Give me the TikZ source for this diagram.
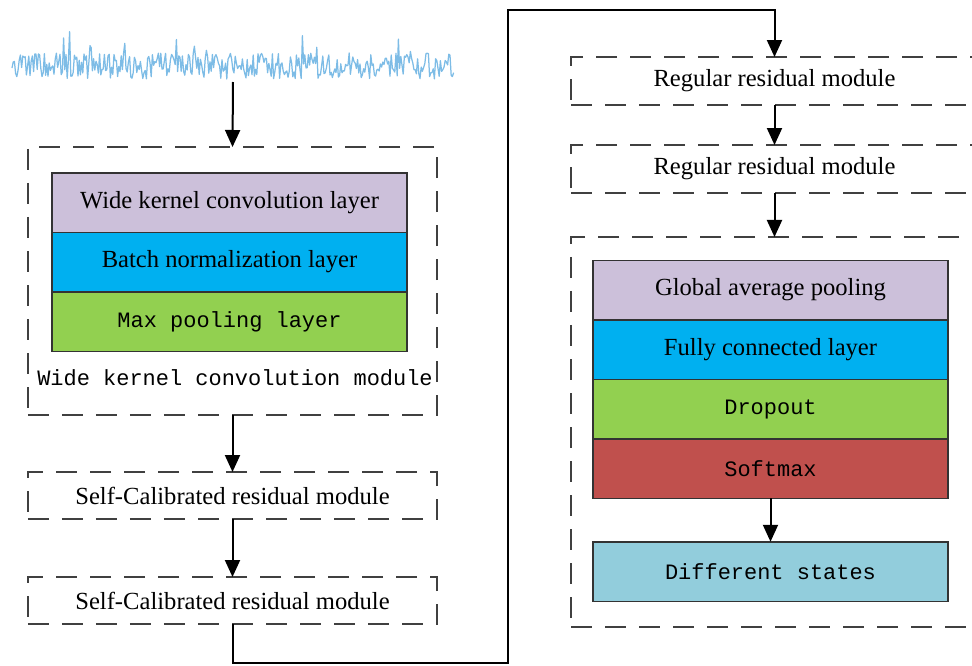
\documentclass[tikz,border=0pt]{standalone}
\usepackage{fontspec}
\setmainfont{Liberation Serif}
\setmonofont{Liberation Mono}
\usetikzlibrary{arrows.meta,positioning}
\definecolor{layerPurple}{HTML}{CCC0DA}
\definecolor{layerBlue}{HTML}{00B0F0}
\definecolor{layerGreen}{HTML}{92D050}
\definecolor{layerRed}{HTML}{C0504D}
\definecolor{layerCyan}{HTML}{92CDDC}
\definecolor{waveBlue}{HTML}{7DBCE6}

\begin{document}
\begin{tikzpicture}[x=0.2mm,y=-0.2mm,
    layer/.style={draw=black!80, line width=0.3mm, minimum width=71mm, minimum height=11.9mm,
      inner sep=0pt, outer sep=0pt, font=\fontsize{14}{16}\selectfont},
    monolayer/.style={layer, font=\ttfamily\fontsize{12.5}{14}\selectfont},
    module/.style={draw=black!75, line width=0.45mm, dash pattern=on 4.2mm off 2.6mm,
      inner sep=0pt, outer sep=0pt, font=\fontsize{14}{16}\selectfont},
    flow/.style={line width=0.4mm, -{Triangle[length=3.4mm,width=3mm]}},
    wire/.style={line width=0.4mm}]
  \useasboundingbox (0,0) rectangle (972,666);
  \clip (0,0) rectangle (972,666);

  % input signal
  \pgfmathsetseed{11}
  \draw[waveBlue, line width=0.25mm, line join=round]
    (12,68) \foreach \i in {1,...,368} {
      -- ({12+1.2*\i},{min(80,66+13*rand-26*(rand>0.85)*abs(rand))})
    };
  \coordinate (sig) at (233,82);

  % left column
  \node[module, minimum width=81.8mm, minimum height=53.6mm] (wkm) at (232.5,281) {};
  \node[layer, fill=layerPurple] (wkconv) at (229.5,202.5) {Wide kernel convolution layer};
  \node[layer, fill=layerBlue, below=0pt of wkconv] (bn) {Batch normalization layer};
  \node[monolayer, fill=layerGreen, below=0pt of bn] (mpool) {Max pooling layer};
  \node[font=\ttfamily\fontsize{12.5}{14}\selectfont] (wkmlabel) at (235,378) {Wide kernel convolution module};

  \node[module, minimum width=81.8mm, minimum height=9.4mm] (sc1) at (232.5,495.5) {Self-Calibrated residual module};
  \node[module, minimum width=81.8mm, minimum height=9.4mm] (sc2) at (232.5,600.5) {Self-Calibrated residual module};

  % right column
  \node[module, minimum width=81.4mm, minimum height=9.6mm] (rr1) at (774.5,81) {Regular residual module};
  \node[module, minimum width=81.4mm, minimum height=9.6mm] (rr2) at (774.5,169) {Regular residual module};
  \node[module, minimum width=81.4mm, minimum height=78mm] (head) at (774.5,432) {};
  \node[layer, fill=layerPurple] (gap) at (770.5,290) {Global average pooling};
  \node[layer, fill=layerBlue, below=0pt of gap] (fc) {Fully connected layer};
  \node[monolayer, fill=layerGreen, below=0pt of fc] (drop) {Dropout};
  \node[monolayer, fill=layerRed, below=0pt of drop] (soft) {Softmax};
  \node[monolayer, fill=layerCyan] (states) at (770.5,571.5) {Different states};

  % connectors
  \coordinate (turnA) at (508,663);
  \coordinate (turnB) at (508,10);
  \draw[flow] (sig) -- (wkm.north);
  \draw[flow] (wkm.south) -- (sc1.north);
  \draw[flow] (sc1.south) -- (sc2.north);
  \draw[flow] (sc2.south) |- (turnA) -- (turnB) -| (rr1.north);
  \draw[flow] (rr1.south) -- (rr2.north);
  \draw[flow] (rr2.south) -- (head.north);
  \draw[flow] (soft.south) -- (states.north);
\end{tikzpicture}
\end{document}
